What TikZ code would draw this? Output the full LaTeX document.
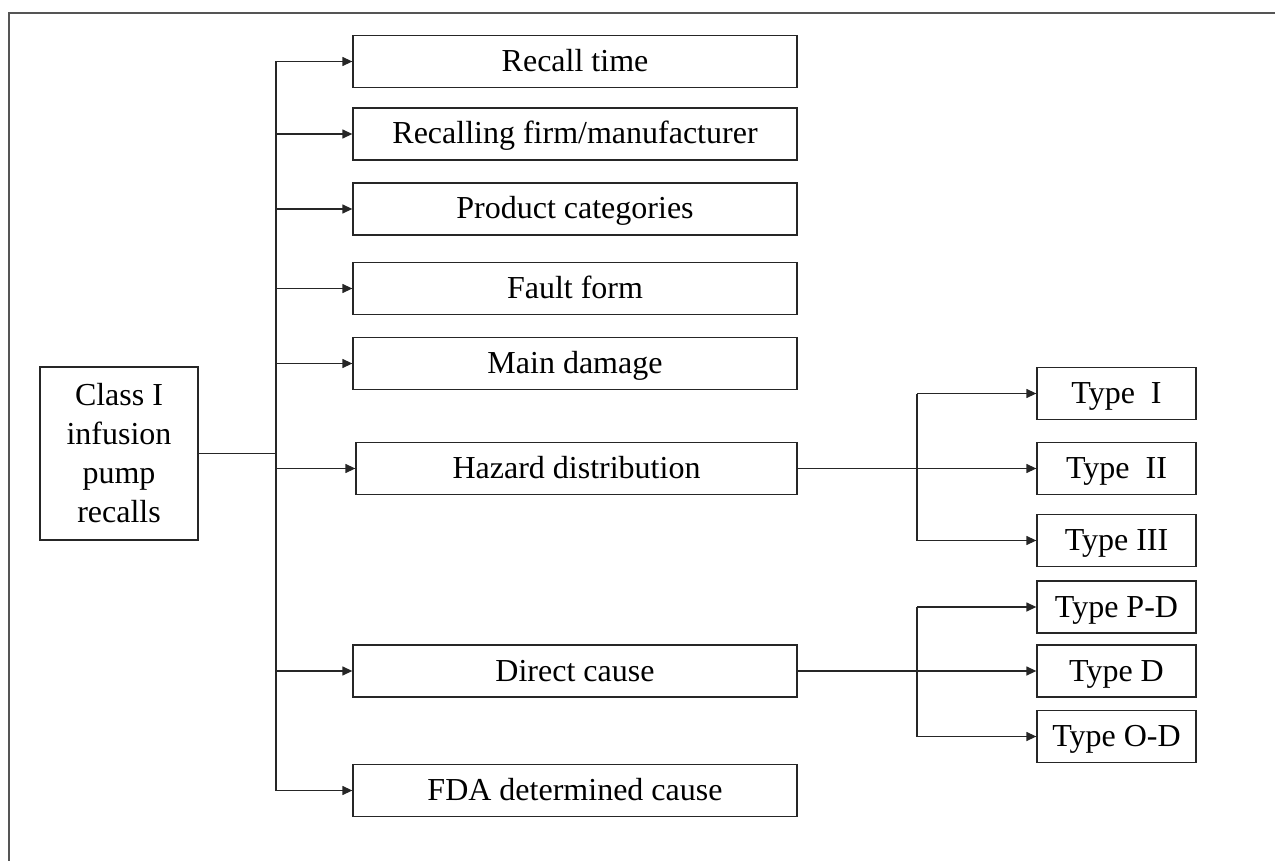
\documentclass[tikz,border=0pt]{standalone}
\usepackage{fontspec}
\setmainfont{Liberation Serif}
\usepackage{xcolor}
\usetikzlibrary{arrows.meta}
\definecolor{framegray}{HTML}{555555}

\tikzset{
  box/.style={draw=black!85, line width=1.3pt, minimum height=52pt, inner sep=0pt,
              font=\fontsize{32}{39}\selectfont},
  midbox/.style={box, minimum width=444pt, text height=25pt, text depth=5pt},
  typebox/.style={box, minimum width=159pt, text height=25pt, text depth=5pt},
  conn/.style={draw=black!85, line width=1.3pt},
  arr/.style={conn, -{Triangle[length=10pt,width=9pt]}}
}

\begin{document}
\begin{tikzpicture}[x=1pt, y=-1pt]
  \useasboundingbox (0,0) rectangle (1275,861);
  \draw[framegray, line width=1.8pt] (9,861) -- (9,13) -- (1275,13);

  \node[box, minimum width=158pt, minimum height=173pt, align=center] (root) at (119,453.5)
    {Class I\\infusion\\pump\\recalls};

  \node[midbox] (time) at (575,61.5) {Recall time};
  \node[midbox] (firm) at (575,134) {Recalling firm/manufacturer};
  \node[midbox] (cat) at (575,209) {Product categories};
  \node[midbox] (fault) at (575,288.5) {Fault form};
  \node[midbox] (damage) at (575,363.5) {Main damage};
  \node[midbox, minimum width=441pt] (hazard) at (576.5,468.5) {Hazard distribution};
  \node[midbox] (direct) at (575,671) {Direct cause};
  \node[midbox] (fda) at (575,790.5) {FDA determined cause};

  \node[typebox] (t1) at (1116.5,393.5) {Type\ \ I};
  \node[typebox] (t2) at (1116.5,468.5) {Type\ \ II};
  \node[typebox] (t3) at (1116.5,540.5) {Type III};
  \node[typebox] (tpd) at (1116.5,607) {Type P-D};
  \node[typebox] (td) at (1116.5,671) {Type D};
  \node[typebox] (tod) at (1116.5,736.5) {Type O-D};

  \coordinate (trunk) at (276,453.5);
  \draw[conn] (root.east) -- (trunk);
  \draw[conn] (time.west -| trunk) -- (fda.west -| trunk);
  \foreach \n in {time, firm, cat, fault, damage, hazard, direct, fda}
    \draw[arr] (\n.west -| trunk) -- (\n.west);

  \coordinate (hsplit) at (917,468.5);
  \draw[conn] (hazard.east) -- (hsplit);
  \draw[conn] (t1.west -| hsplit) -- (t3.west -| hsplit);
  \foreach \n in {t1, t2, t3}
    \draw[arr] (\n.west -| hsplit) -- (\n.west);

  \coordinate (dsplit) at (917,671);
  \draw[conn] (direct.east) -- (dsplit);
  \draw[conn] (tpd.west -| dsplit) -- (tod.west -| dsplit);
  \foreach \n in {tpd, td, tod}
    \draw[arr] (\n.west -| dsplit) -- (\n.west);
\end{tikzpicture}
\end{document}
